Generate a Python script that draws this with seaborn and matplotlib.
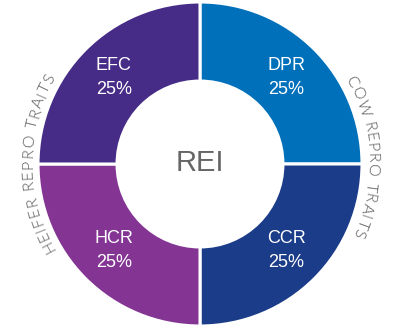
import numpy as np
import pandas as pd
import seaborn as sns
import matplotlib
matplotlib.use("Agg")
import matplotlib.pyplot as plt
from matplotlib.font_manager import FontProperties, findfont, get_font

# ---- data ----
traits = ["DPR", "CCR", "HCR", "EFC"]
weights = [25, 25, 25, 25]
colors = ["#0070BA", "#1B3C88", "#843594", "#462C87"]
center_label = "REI"
group_labels = ["COW REPRO TRAITS", "HEIFER REPRO TRAITS"]

sns.set_theme(style="white")
plt.rcParams["font.family"] = ["Liberation Sans", "DejaVu Sans"]

DPI = 100
fig = plt.figure(figsize=(3.98, 3.28), dpi=DPI)
ax = fig.add_axes([0, 0, 1, 1])
R_PX = 162.0

df = pd.DataFrame({"trait": traits, "weight": weights})
wedges, _ = ax.pie(df["weight"], colors=colors, startangle=90, counterclock=False,
                   radius=1.0,
                   wedgeprops=dict(width=0.488, edgecolor="white", linewidth=2.2))
ax.set_xlim(-200 / R_PX, 198 / R_PX)
ax.set_ylim(-164 / R_PX, 164 / R_PX)
ax.set_aspect("equal")
ax.axis("off")

# slice labels
for w, (t, v) in zip(wedges, zip(df["trait"], df["weight"])):
    mid = np.deg2rad((w.theta1 + w.theta2) / 2)
    r = 0.753
    ax.text(r * np.cos(mid), r * np.sin(mid), f"{t}\n{v}%", ha="center", va="center",
            color="white", fontsize=13, linespacing=1.5)

ax.text(0, 0.005, center_label, ha="center", va="center", color="#666666", fontsize=21)

# curved group labels
fp = FontProperties(family="Lato", weight=300, size=11.5)
font = get_font(findfont(fp))
font.set_size(11.5, DPI)

def advances(s):
    return [font.load_char(ord(c)).linearHoriAdvance / 65536.0 for c in s]

def arc_text(s, theta_first, theta_last, r_px):
    adv = advances(s)
    centers = np.cumsum([0] + adv[:-1]) + np.array(adv) / 2
    natural = centers[-1] - centers[0]
    target = np.deg2rad(abs(theta_first - theta_last)) * r_px
    tracking = (target - natural) / (len(s) - 1)
    for i, c in enumerate(s):
        d = centers[i] - centers[0] + tracking * i
        ang = theta_first - np.rad2deg(d / r_px)
        rad = np.deg2rad(ang)
        ax.text(r_px / R_PX * np.cos(rad), r_px / R_PX * np.sin(rad), c,
                fontproperties=fp, color="#555555", rotation=ang - 90,
                rotation_mode="anchor", ha="center", va="baseline")

arc_text(group_labels[0], 28.5, -23.5, 168)
arc_text(group_labels[1], 208.5, 150.5, 168)

fig.savefig("out.png", dpi=DPI, facecolor="white")
